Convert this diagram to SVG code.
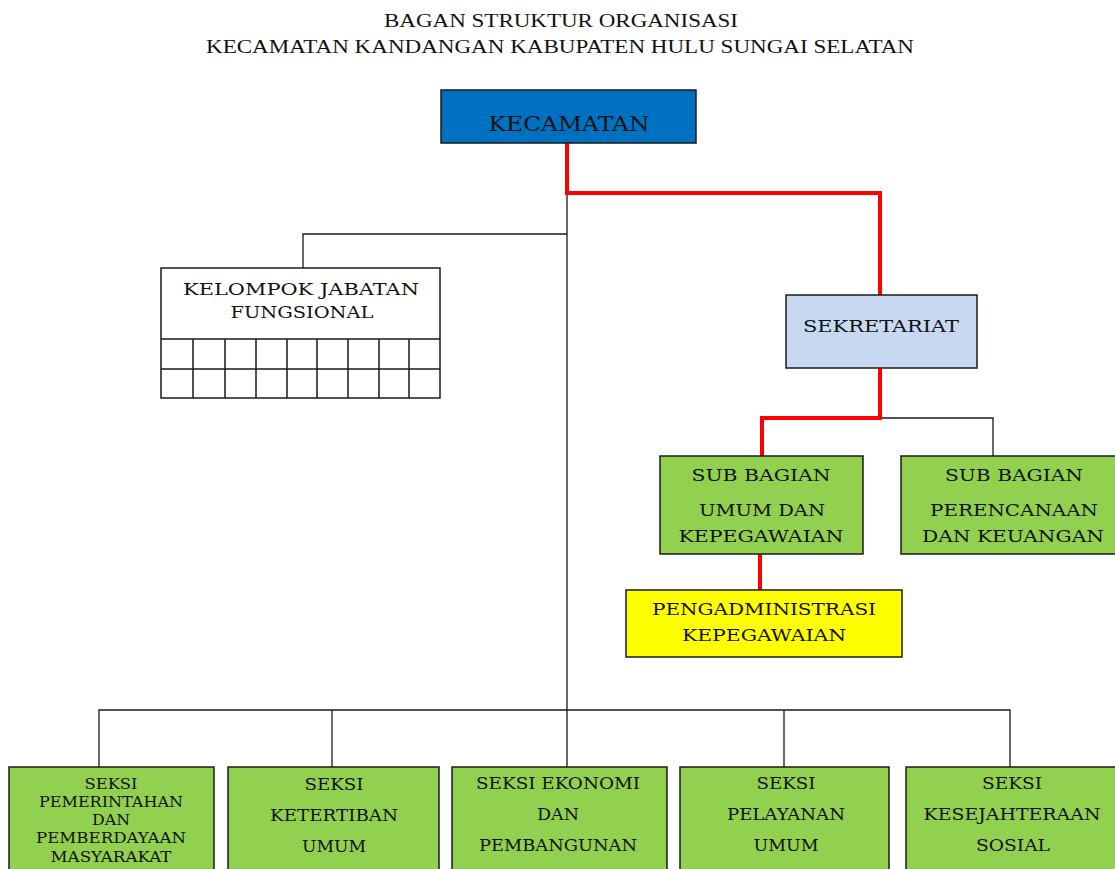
<svg xmlns="http://www.w3.org/2000/svg" width="1115" height="869" viewBox="0 0 1115 869">
<style>
text{font-family:"DejaVu Serif","Liberation Serif",serif;fill:#111;text-anchor:middle}
.t{font-family:"Liberation Serif","DejaVu Serif",serif;font-size:19px}
.n{stroke:#1a1a1a;stroke-width:1.5}
.c{fill:none;stroke:#1a1a1a;stroke-width:1.3}
.r{fill:none;stroke:#ff0000;stroke-width:4}
.f16{font-size:17.5px}
.f14{font-size:14.5px}
.g{fill:#92d050}
</style>
<rect width="1115" height="869" fill="#fff"/>
<g id="title">
<text class="t" x="561" y="27" textLength="354" lengthAdjust="spacingAndGlyphs">BAGAN STRUKTUR ORGANISASI</text>
<text class="t" x="560" y="53" textLength="708" lengthAdjust="spacingAndGlyphs">KECAMATAN KANDANGAN KABUPATEN HULU SUNGAI SELATAN</text>
</g>
<g id="connectors">
<path class="c" d="M567 193 V710 M567 234 H303 V268 M99 767 V710 H1010 V767 M332 710 V767 M784 710 V767 M567 710 V767 M878 418 H993 V456"/>
<path class="r" d="M567 143 V193 H880 V295 M880 368 V418 H762 V456 M760 554 V590"/>
</g>
<g id="kecamatan">
<rect class="n" x="441" y="90" width="255" height="53" fill="#0070c0"/>
<text x="569" y="131" font-size="20" textLength="161" lengthAdjust="spacingAndGlyphs">KECAMATAN</text>
</g>
<g id="kelompok-jabatan-fungsional">
<rect class="n" x="161" y="268" width="279" height="130" fill="#fff"/>
<path class="n" fill="none" d="M161 339 H440 M161 369 H440 M193 339 V398 M225 339 V398 M256 339 V398 M287 339 V398 M317 339 V398 M348 339 V398 M379 339 V398 M409 339 V398"/>
<text class="f16" x="301" y="295" textLength="236" lengthAdjust="spacingAndGlyphs">KELOMPOK JABATAN</text>
<text class="f16" x="302" y="318" textLength="143" lengthAdjust="spacingAndGlyphs">FUNGSIONAL</text>
</g>
<g id="sekretariat">
<rect class="n" x="786" y="295" width="191" height="73" fill="#c6d9f1"/>
<text class="f16" x="881" y="332" textLength="156" lengthAdjust="spacingAndGlyphs">SEKRETARIAT</text>
</g>
<g id="subbag-umum">
<rect class="n g" x="660" y="456" width="203" height="98"/>
<text class="f16" x="761" y="481" textLength="139" lengthAdjust="spacingAndGlyphs">SUB BAGIAN</text>
<text class="f16" x="762" y="516" textLength="126" lengthAdjust="spacingAndGlyphs">UMUM DAN</text>
<text class="f16" x="761" y="542" textLength="165" lengthAdjust="spacingAndGlyphs">KEPEGAWAIAN</text>
</g>
<g id="subbag-perencanaan">
<rect class="n g" x="901" y="456" width="220" height="98"/>
<text class="f16" x="1014" y="481" textLength="138" lengthAdjust="spacingAndGlyphs">SUB BAGIAN</text>
<text class="f16" x="1014" y="516" textLength="168" lengthAdjust="spacingAndGlyphs">PERENCANAAN</text>
<text class="f16" x="1013" y="542" textLength="182" lengthAdjust="spacingAndGlyphs">DAN KEUANGAN</text>
</g>
<g id="pengadministrasi">
<rect class="n" x="626" y="590" width="276" height="67" fill="#ffff00"/>
<text class="f16" x="764" y="615" textLength="224" lengthAdjust="spacingAndGlyphs">PENGADMINISTRASI</text>
<text class="f16" x="764" y="641" textLength="164" lengthAdjust="spacingAndGlyphs">KEPEGAWAIAN</text>
</g>
<g id="seksi-pemerintahan">
<rect class="n g" x="9" y="767" width="205" height="110"/>
<text class="f14" x="111" y="789" textLength="53" lengthAdjust="spacingAndGlyphs">SEKSI</text>
<text class="f14" x="111" y="807" textLength="144" lengthAdjust="spacingAndGlyphs">PEMERINTAHAN</text>
<text class="f14" x="111" y="825" textLength="38" lengthAdjust="spacingAndGlyphs">DAN</text>
<text class="f14" x="111" y="843" textLength="150" lengthAdjust="spacingAndGlyphs">PEMBERDAYAAN</text>
<text class="f14" x="111" y="862" textLength="121" lengthAdjust="spacingAndGlyphs">MASYARAKAT</text>
</g>
<g id="seksi-ketertiban">
<rect class="n g" x="228" y="767" width="211" height="110"/>
<text class="f16" x="334" y="790" textLength="59" lengthAdjust="spacingAndGlyphs">SEKSI</text>
<text class="f16" x="334" y="821" textLength="128" lengthAdjust="spacingAndGlyphs">KETERTIBAN</text>
<text class="f16" x="334" y="852" textLength="64" lengthAdjust="spacingAndGlyphs">UMUM</text>
</g>
<g id="seksi-ekonomi">
<rect class="n g" x="452" y="767" width="215" height="110"/>
<text class="f16" x="558" y="789" textLength="164" lengthAdjust="spacingAndGlyphs">SEKSI EKONOMI</text>
<text class="f16" x="558" y="820" textLength="42" lengthAdjust="spacingAndGlyphs">DAN</text>
<text class="f16" x="558" y="851" textLength="158" lengthAdjust="spacingAndGlyphs">PEMBANGUNAN</text>
</g>
<g id="seksi-pelayanan">
<rect class="n g" x="680" y="767" width="209" height="110"/>
<text class="f16" x="786" y="789" textLength="59" lengthAdjust="spacingAndGlyphs">SEKSI</text>
<text class="f16" x="786" y="820" textLength="118" lengthAdjust="spacingAndGlyphs">PELAYANAN</text>
<text class="f16" x="786" y="851" textLength="65" lengthAdjust="spacingAndGlyphs">UMUM</text>
</g>
<g id="seksi-kesejahteraan">
<rect class="n g" x="906" y="767" width="215" height="110"/>
<text class="f16" x="1012" y="789" textLength="60" lengthAdjust="spacingAndGlyphs">SEKSI</text>
<text class="f16" x="1012" y="820" textLength="177" lengthAdjust="spacingAndGlyphs">KESEJAHTERAAN</text>
<text class="f16" x="1013" y="851" textLength="74" lengthAdjust="spacingAndGlyphs">SOSIAL</text>
</g>
</svg>
